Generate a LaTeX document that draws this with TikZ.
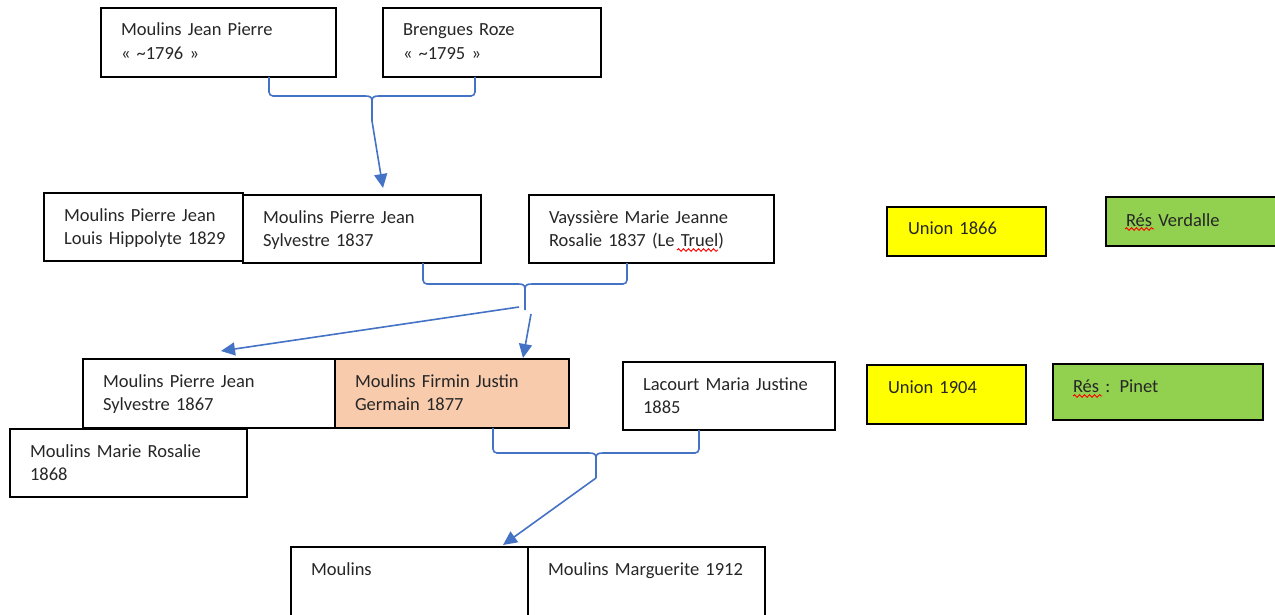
\documentclass[tikz,border=0pt]{standalone}
\usepackage{fontspec}
\setmainfont{Carlito}
\usetikzlibrary{arrows.meta,decorations.pathmorphing}
\definecolor{linkblue}{HTML}{4472C4}
\definecolor{peach}{HTML}{F8CBAD}
\definecolor{uyellow}{HTML}{FFFF00}
\definecolor{rgreen}{HTML}{92D050}
\newcommand\familybrace[5]{%
  \draw[conn, rounded corners=4pt] (#1) |- (#4-7,#3);
  \draw[conn] (#4-7,#3) .. controls (#4-2,#3) and (#4,#3+1) .. (#4,#3+5) -- (#4,#5);
  \draw[conn] (#4+7,#3) .. controls (#4+2,#3) and (#4,#3+1) .. (#4,#3+5);
  \draw[conn, rounded corners=4pt] (#4+7,#3) -| (#2);
}
\begin{document}
\begin{tikzpicture}[x=1pt,y=-1pt,
  pbox/.style={draw=black, line width=1.3pt, anchor=north west, inner xsep=20pt, inner ysep=0pt,
    outer sep=0pt, text height=28pt, text=black!85,
    font=\fontsize{18.5}{23.5}\selectfont,
    execute at begin node={\parindent=0pt\raggedright\rightskip=0pt plus 1fil minus 100pt\relax}},
  conn/.style={draw=linkblue, line width=1.6pt},
  arr/.style={conn, -{Triangle[length=14pt,width=13pt]}},
  wave/.style={draw=red, line width=0.9pt, decorate, decoration={snake, amplitude=1.3pt, segment length=5pt}}]

\useasboundingbox (0,0) rectangle (1275,615);

% generation 1
\node[pbox, text width=195pt, text depth=41pt] (A) at (101,8) {Moulins Jean Pierre\\« \textasciitilde1796 »};
\node[pbox, text width=178pt, text depth=41pt] (B) at (383,8) {Brengues Roze\\« \textasciitilde1795 »};

% generation 2
\node[pbox, text width=159pt, text depth=40pt] (C) at (44,193) {Moulins Pierre Jean\\Louis Hippolyte 1829};
\node[pbox, text width=198pt, text depth=40pt] (D) at (243,195) {Moulins Pierre Jean\\Sylvestre 1837};
\node[pbox, text width=205pt, text depth=40pt] (E) at (529,195) {Vayssière Marie Jeanne\\Rosalie 1837 (Le Truel)};
\node[pbox, fill=uyellow, inner xsep=21pt, text width=117pt, text height=27pt, text depth=22pt] (U1) at (887,207) {Union 1866};
\node[pbox, fill=rgreen, text width=150pt, text height=29pt, text depth=20pt] (R1) at (1106,197) {Rés Verdalle};

% generation 3
\node[pbox, text width=212pt, text depth=41pt] (F) at (83,359) {Moulins Pierre Jean\\Sylvestre 1867};
\node[pbox, fill=peach, text width=194pt, text depth=41pt] (G) at (335,359) {Moulins Firmin Justin\\Germain 1877};
\node[pbox, text width=172pt, text depth=40pt] (H) at (623,362) {Lacourt Maria Justine\\1885};
\node[pbox, fill=uyellow, inner xsep=21pt, text width=117pt, text height=28pt, text depth=31pt] (U2) at (867,365) {Union 1904};
\node[pbox, fill=rgreen, text width=170pt, text height=28pt, text depth=28pt] (R2) at (1053,364) {Rés : Pinet};
\node[pbox, text width=197pt, text depth=40pt] (I) at (10,429) {Moulins Marie Rosalie\\1868};

% generation 4
\node[pbox, text width=197pt, text depth=42pt] (J) at (291,547) {Moulins};
\node[pbox, text width=197pt, text depth=42pt] (K) at (528,547) {Moulins Marguerite 1912};

% spelling marks
\draw[wave] (677,250) -- (718,250);
\draw[wave] (1125,229) -- (1154,229);
\draw[wave] (1073,396) -- (1102,396);

% family links
\coordinate (b1l) at ([xshift=168pt]A.south west);
\coordinate (b1r) at ([xshift=92pt]B.south west);
\familybrace{b1l}{b1r}{96}{372}{121}
\coordinate (s1) at (372,121);
\draw[arr] (s1) -- ([xshift=140pt,yshift=7pt]D.north west);

\coordinate (b2l) at ([xshift=180pt]D.south west);
\coordinate (b2r) at ([xshift=98pt]E.south west);
\familybrace{b2l}{b2r}{284}{525}{310}
\coordinate (s2a) at (519,307);
\coordinate (s2b) at (531,314);
\draw[arr] (s2a) -- ([xshift=138pt,yshift=8pt]F.north west);
\draw[arr] (s2b) -- ([xshift=188pt,yshift=1pt]G.north west);

\coordinate (b3l) at ([xshift=158pt]G.south west);
\coordinate (b3r) at ([xshift=76pt]H.south west);
\familybrace{b3l}{b3r}{453}{596}{478}
\coordinate (s3) at (596,478);
\draw[arr] (s3) -- ([xshift=212pt,yshift=2pt]J.north west);
\end{tikzpicture}
\end{document}
